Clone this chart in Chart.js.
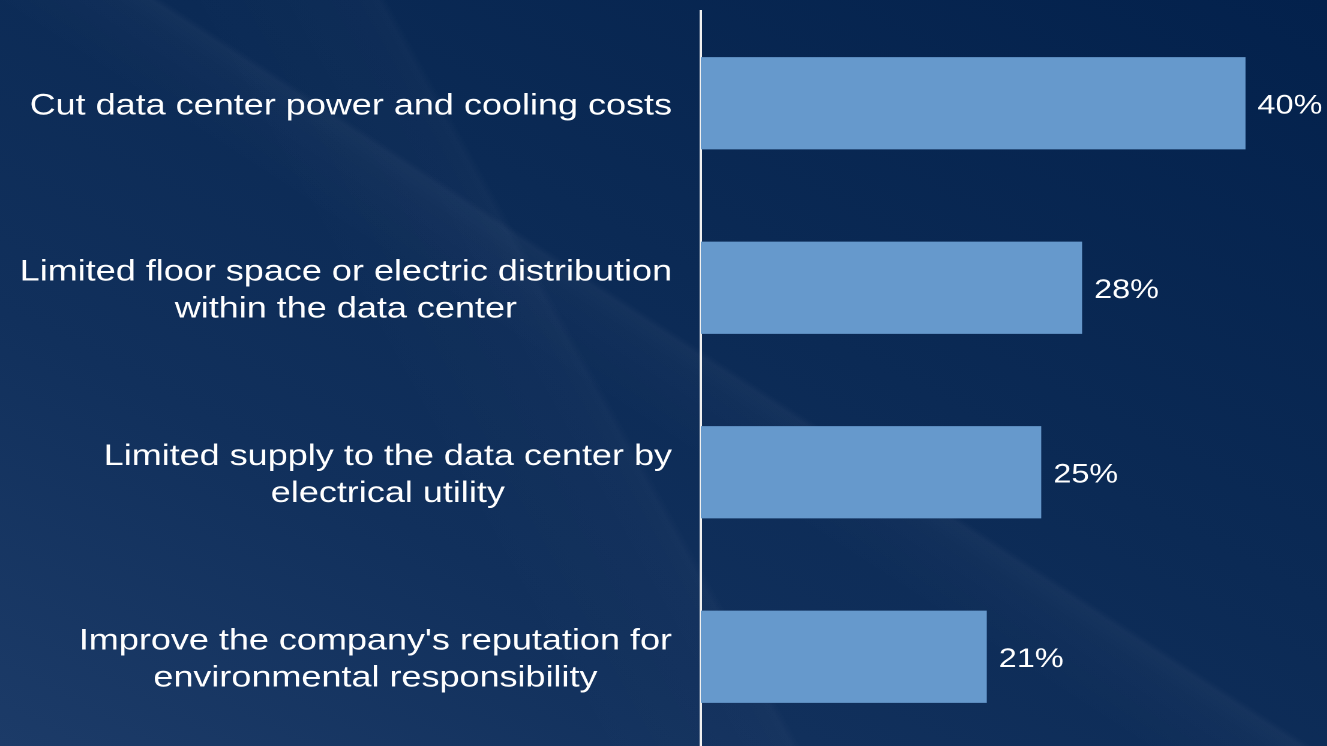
<!DOCTYPE html>
<html>
<head>
<meta charset="utf-8">
<script src="https://cdn.jsdelivr.net/npm/chart.js@4.4.1/dist/chart.umd.min.js"></script>
<style>
    html, body {
        margin: 0;
        padding: 0;
        width: 1327px;
        height: 746px;
        overflow: hidden;
    }
    body {
        background:
            linear-gradient(33deg, rgba(255,255,255,0) 46%, rgba(255,255,255,0.02) 51%, rgba(255,255,255,0.035) 52.5%, rgba(255,255,255,0) 53%),
            linear-gradient(61deg, rgba(255,255,255,0) 34%, rgba(255,255,255,0.015) 44%, rgba(255,255,255,0.025) 45.5%, rgba(255,255,255,0) 46%),
            linear-gradient(28deg, #1c3b68 0%, #11305c 30%, #0b2a55 58%, #03214c 100%);
    }
    #chart {
        position: absolute;
        left: 0;
        top: 0;
        transform: scaleX(1.2);
        transform-origin: 0 0;
    }
</style>
</head>
<body>
<canvas id="chart" width="1106" height="760"></canvas>
<script>
const categoryLabels = [
    ['Cut data center power and cooling costs'],
    ['Limited floor space or electric distribution', 'within the data center'],
    ['Limited supply to the data center by', 'electrical utility'],
    ["Improve the company's reputation for", 'environmental responsibility']
];
const shareValues = [40, 28, 25, 21];
const axisMin = 0;
const axisMax = 46;

const LABEL_FONT = '30px "Liberation Sans", Arial, sans-serif';
const VALUE_FONT = '27px "Liberation Sans", Arial, sans-serif';

// category text: right-aligned block, lines centred inside it
const categoryText = {
    id: 'categoryText',
    afterDraw(chart) {
        const { ctx, chartArea } = chart;
        const yScale = chart.scales.y;
        const right = chartArea.left - 24;

        ctx.save();
        ctx.font = LABEL_FONT;
        ctx.fillStyle = '#FFFFFF';
        ctx.textAlign = 'center';
        ctx.textBaseline = 'middle';

        categoryLabels.forEach((lines, i) => {
            const widest = Math.max(...lines.map(l => ctx.measureText(l).width));
            const cx = right - widest / 2;
            const cy = yScale.getPixelForTick(i) + 3;
            lines.forEach((line, j) => {
                ctx.fillText(line, cx, cy + (j - (lines.length - 1) / 2) * 37);
            });
        });

        ctx.restore();
    }
};

const valueLabels = {
    id: 'valueLabels',
    afterDatasetsDraw(chart) {
        const { ctx } = chart;
        ctx.save();
        ctx.font = VALUE_FONT;
        ctx.fillStyle = '#FFFFFF';
        ctx.textAlign = 'left';
        ctx.textBaseline = 'middle';

        chart.getDatasetMeta(0).data.forEach((bar, i) => {
            ctx.fillText(shareValues[i] + '%', bar.x + 10, bar.y + 3);
        });

        ctx.restore();
    }
};

new Chart(document.getElementById('chart'), {
    type: 'bar',
    data: {
        labels: categoryLabels.map(l => l.join(' ')),
        datasets: [{
            data: shareValues,
            backgroundColor: '#6699CC',
            borderWidth: 0,
            categoryPercentage: 1,
            barPercentage: 0.5
        }]
    },
    options: {
        indexAxis: 'y',
        responsive: false,
        devicePixelRatio: 2,
        animation: false,
        layout: {
            padding: { top: 11, bottom: 11, left: 0, right: 0 }
        },
        scales: {
            x: {
                display: false,
                min: axisMin,
                max: axisMax
            },
            y: {
                grid: { display: false },
                border: { display: true, color: '#F0F0F0', width: 2 },
                ticks: { display: false },
                afterFit(scale) {
                    scale.width = 584;
                }
            }
        },
        plugins: {
            legend: { display: false },
            tooltip: { enabled: false }
        }
    },
    plugins: [categoryText, valueLabels]
});
</script>
</body>
</html>
